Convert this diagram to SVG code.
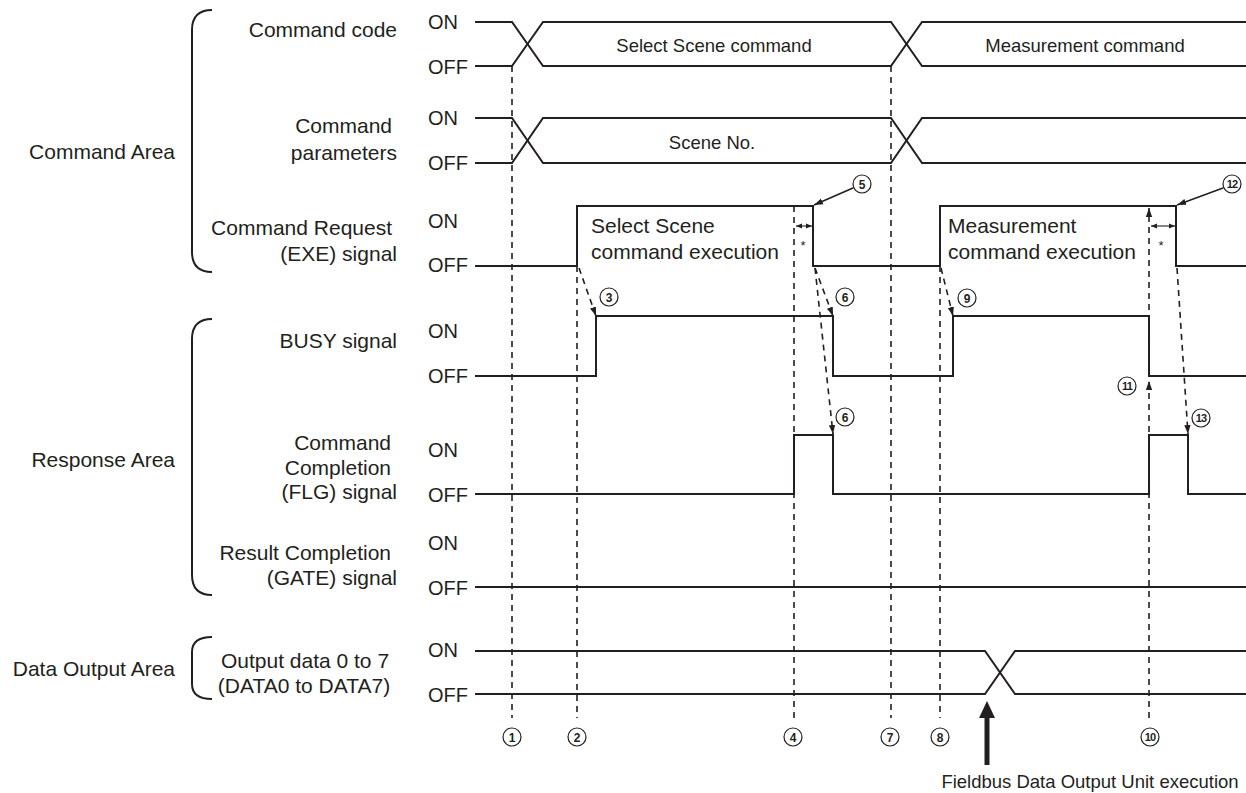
<svg xmlns="http://www.w3.org/2000/svg" width="1246" height="793" viewBox="0 0 1246 793">
<defs>
<style>
text{font-family:"Liberation Sans",Arial,sans-serif;fill:#231f20}
.lbl{font-size:21px}
.onoff{font-size:20px}
.wl{font-size:18.5px}
.num{font-size:12px;font-weight:bold;text-anchor:middle}
.num2{font-size:11px;font-weight:bold;text-anchor:middle;letter-spacing:-0.8px}
.wave{fill:none;stroke:#231f20;stroke-width:2;stroke-linejoin:miter}
.brace{fill:none;stroke:#231f20;stroke-width:2}
.dash{fill:none;stroke:#231f20;stroke-width:1.6;stroke-dasharray:6,5}
.solid{fill:none;stroke:#231f20;stroke-width:1.6}
.thin{fill:none;stroke:#231f20;stroke-width:1.1}
.circ{fill:#fff;stroke:#231f20;stroke-width:1.2}
</style>
<marker id="ah" viewBox="0 0 10 10" refX="10" refY="5" markerWidth="9" markerHeight="9" markerUnits="userSpaceOnUse" orient="auto">
<path d="M0,1.5 L10,5 L0,8.5 Z" fill="#231f20"/>
</marker>
<marker id="sh" viewBox="0 0 10 10" refX="10" refY="5" markerWidth="6" markerHeight="6" markerUnits="userSpaceOnUse" orient="auto-start-reverse">
<path d="M0,1 L10,5 L0,9 Z" fill="#231f20"/>
</marker>
</defs>

<g id="area-labels">
<text class="lbl" x="175" y="159" text-anchor="end">Command Area</text>
<text class="lbl" x="175" y="467" text-anchor="end">Response Area</text>
<text class="lbl" x="175" y="676" text-anchor="end">Data Output Area</text>
<path class="brace" d="M212,10 Q192,10 192,30 L192,252 Q192,272 212,272"/>
<path class="brace" d="M212,319 Q192,319 192,339 L192,575 Q192,595 212,595"/>
<path class="brace" d="M212,637 Q192,637 192,652 L192,684 Q192,699 212,699"/>
</g>

<g id="command-code">
<text class="lbl" x="397" y="37" text-anchor="end">Command code</text>
<text class="onoff" x="428" y="29">ON</text>
<text class="onoff" x="428" y="74">OFF</text>
<polyline class="wave" points="475,22 512,22 543,66 891,66 922,22 1246,22"/>
<polyline class="wave" points="475,66 512,66 543,22 891,22 922,66 1246,66"/>
<text class="wl" x="714" y="52" text-anchor="middle">Select Scene command</text>
<text class="wl" x="1085" y="52" text-anchor="middle">Measurement command</text>
</g>

<g id="command-parameters">
<text class="lbl" x="392" y="133" text-anchor="end">Command</text>
<text class="lbl" x="397" y="160" text-anchor="end">parameters</text>
<text class="onoff" x="428" y="125">ON</text>
<text class="onoff" x="428" y="170">OFF</text>
<polyline class="wave" points="475,118 512,118 543,163 891,163 922,118 1246,118"/>
<polyline class="wave" points="475,163 512,163 543,118 891,118 922,163 1246,163"/>
<text class="wl" x="712" y="149" text-anchor="middle">Scene No.</text>
</g>

<g id="command-request">
<text class="lbl" x="392" y="235" text-anchor="end">Command Request</text>
<text class="lbl" x="397" y="261" text-anchor="end">(EXE) signal</text>
<text class="onoff" x="428" y="228">ON</text>
<text class="onoff" x="428" y="272">OFF</text>
<polyline class="wave" points="475,266 577,266 577,206 813,206 813,266 940,266 940,206 1176,206 1176,266 1246,266"/>
<text class="lbl" x="591" y="233">Select Scene</text>
<text class="lbl" x="591" y="259">command execution</text>
<text class="lbl" x="948" y="233">Measurement</text>
<text class="lbl" x="948" y="259">command execution</text>
</g>

<g id="busy">
<text class="lbl" x="397" y="348" text-anchor="end">BUSY signal</text>
<text class="onoff" x="428" y="338">ON</text>
<text class="onoff" x="428" y="383">OFF</text>
<polyline class="wave" points="475,376 596,376 596,316 833,316 833,376 953,376 953,316 1149,316 1149,376 1246,376"/>
</g>

<g id="flg">
<text class="lbl" x="391" y="450" text-anchor="end">Command</text>
<text class="lbl" x="391" y="475" text-anchor="end">Completion</text>
<text class="lbl" x="397" y="499" text-anchor="end">(FLG) signal</text>
<text class="onoff" x="428" y="457">ON</text>
<text class="onoff" x="428" y="502">OFF</text>
<polyline class="wave" points="475,494 794,494 794,435 833,435 833,494 1149,494 1149,435 1188,435 1188,494 1246,494"/>
</g>

<g id="gate">
<text class="lbl" x="391" y="560" text-anchor="end">Result Completion</text>
<text class="lbl" x="397" y="585" text-anchor="end">(GATE) signal</text>
<text class="onoff" x="428" y="550">ON</text>
<text class="onoff" x="428" y="595">OFF</text>
<polyline class="wave" points="475,587 1246,587"/>
</g>

<g id="data-output">
<text class="lbl" x="305" y="668" text-anchor="middle">Output data 0 to 7</text>
<text class="lbl" x="304" y="693" text-anchor="middle">(DATA0 to DATA7)</text>
<text class="onoff" x="428" y="657">ON</text>
<text class="onoff" x="428" y="702">OFF</text>
<polyline class="wave" points="475,651 985,651 1015,694 1246,694"/>
<polyline class="wave" points="475,694 985,694 1015,651 1246,651"/>
</g>

<g id="connectors">
<line class="dash" x1="512" y1="66" x2="512" y2="718"/>
<line class="dash" x1="577" y1="266" x2="577" y2="718"/>
<line class="dash" x1="794" y1="206" x2="794" y2="718"/>
<line class="dash" x1="891" y1="66" x2="891" y2="718"/>
<line class="dash" x1="940" y1="266" x2="940" y2="718"/>
<line class="dash" x1="1149" y1="718" x2="1149" y2="381" marker-end="url(#ah)"/>
<line class="dash" x1="1149" y1="376" x2="1149" y2="208" marker-end="url(#ah)"/>
<line class="dash" x1="579" y1="268" x2="596" y2="316" marker-end="url(#ah)"/>
<line class="dash" x1="815" y1="268" x2="833" y2="316" marker-end="url(#ah)"/>
<line class="dash" x1="815" y1="268" x2="833" y2="434" marker-end="url(#ah)"/>
<line class="dash" x1="941" y1="268" x2="953" y2="316" marker-end="url(#ah)"/>
<line class="dash" x1="1177" y1="268" x2="1188" y2="434" marker-end="url(#ah)"/>
<line class="solid" x1="853" y1="188" x2="814" y2="205" marker-end="url(#ah)"/>
<line class="solid" x1="1223" y1="188" x2="1177" y2="205" marker-end="url(#ah)"/>
<line class="thin" x1="796" y1="226" x2="812" y2="226" marker-start="url(#sh)" marker-end="url(#sh)"/>
<line class="thin" x1="1151" y1="226" x2="1175" y2="226" marker-start="url(#sh)" marker-end="url(#sh)"/>
<text x="803" y="250" font-size="13" text-anchor="middle">*</text>
<text x="1161" y="250" font-size="13" text-anchor="middle">*</text>
<line x1="987" y1="765" x2="987" y2="714" stroke="#231f20" stroke-width="5"/>
<path d="M979,718 L987,701 L995,718 Z" fill="#231f20"/>
<text x="1090" y="788" font-size="18.5" text-anchor="middle">Fieldbus Data Output Unit execution</text>
</g>

<g id="markers">
<circle class="circ" cx="512" cy="737" r="9"/><text class="num" x="512" y="741.5">1</text>
<circle class="circ" cx="577" cy="737" r="9"/><text class="num" x="577" y="741.5">2</text>
<circle class="circ" cx="793" cy="737" r="9"/><text class="num" x="793" y="741.5">4</text>
<circle class="circ" cx="890" cy="737" r="9"/><text class="num" x="890" y="741.5">7</text>
<circle class="circ" cx="940" cy="737" r="9"/><text class="num" x="940" y="741.5">8</text>
<circle class="circ" cx="1150" cy="737" r="9"/><text class="num2" x="1150" y="741">10</text>
<circle class="circ" cx="609" cy="297" r="9"/><text class="num" x="609" y="301.5">3</text>
<circle class="circ" cx="862" cy="184" r="9"/><text class="num" x="862" y="188.5">5</text>
<circle class="circ" cx="845" cy="297" r="9"/><text class="num" x="845" y="301.5">6</text>
<circle class="circ" cx="845" cy="417" r="9"/><text class="num" x="845" y="421.5">6</text>
<circle class="circ" cx="967" cy="298" r="9"/><text class="num" x="967" y="302.5">9</text>
<circle class="circ" cx="1127" cy="386" r="9"/><text class="num2" x="1127" y="390">11</text>
<circle class="circ" cx="1232" cy="184" r="9"/><text class="num2" x="1232" y="188">12</text>
<circle class="circ" cx="1201" cy="418" r="9"/><text class="num2" x="1201" y="422">13</text>
</g>
</svg>
